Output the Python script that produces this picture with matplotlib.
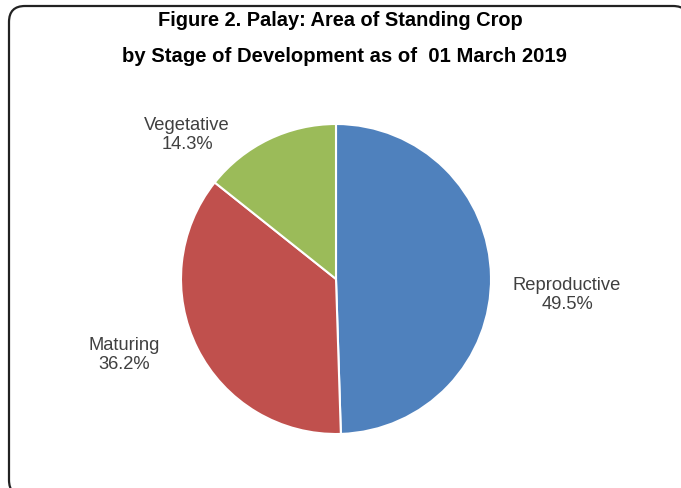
import matplotlib
matplotlib.use("Agg")
import matplotlib.pyplot as plt
from matplotlib.patches import FancyBboxPatch

# Figure 2: Palay area of standing crop by stage of development, 01 March 2019
stages = ["Reproductive", "Maturing", "Vegetative"]
shares = [49.5, 36.2, 14.3]
colors = ["#4F81BD", "#C0504D", "#9BBB59"]

W, H = 681, 488
fig = plt.figure(figsize=(W / 100, H / 100), dpi=100)
plt.rcParams['font.family'] = ['Liberation Sans', 'DejaVu Sans']

# background axes in pixel units for the rounded chart border
bg = fig.add_axes([0, 0, 1, 1], zorder=-1)
bg.set_xlim(0, W)
bg.set_ylim(H, 0)
bg.axis("off")
bg.add_patch(FancyBboxPatch((9, 6), 680, 490,
                            boxstyle="round,pad=0,rounding_size=16",
                            facecolor="white", edgecolor="#222222",
                            linewidth=1.6, clip_on=False))

fig.text(340 / W, 1 - 21 / H, "Figure 2. Palay: Area of Standing Crop",
         ha="center", va="center", fontsize=14.4, fontweight="bold")
fig.text(344 / W, 1 - 57 / H, "by Stage of Development as of  01 March 2019",
         ha="center", va="center", fontsize=14.6, fontweight="bold")

# pie centred at (336, 279) px, radius 155 px
cx, cy, r = 336, 279, 155
ax = fig.add_axes([(cx - r) / W, (H - cy - r) / H, 2 * r / W, 2 * r / H])
ax.pie(shares, colors=colors, startangle=90, counterclock=False,
       wedgeprops=dict(edgecolor="white", linewidth=1.5))
ax.set_xlim(-1, 1)
ax.set_ylim(-1, 1)
ax.set_aspect("equal")
ax.axis("off")

# label centres in pixels, as Excel placed them
label_px = [(567, 295), (124, 355), (187, 135)]
for name, val, (px, py) in zip(stages, shares, label_px):
    ax.text((px - cx) / r, (cy - py) / r, "%s\n%.1f%%" % (name, val),
            ha="center", va="center", fontsize=13.2, color="#404040",
            linespacing=1.2, clip_on=False)

fig.savefig("out.png", dpi=100)
